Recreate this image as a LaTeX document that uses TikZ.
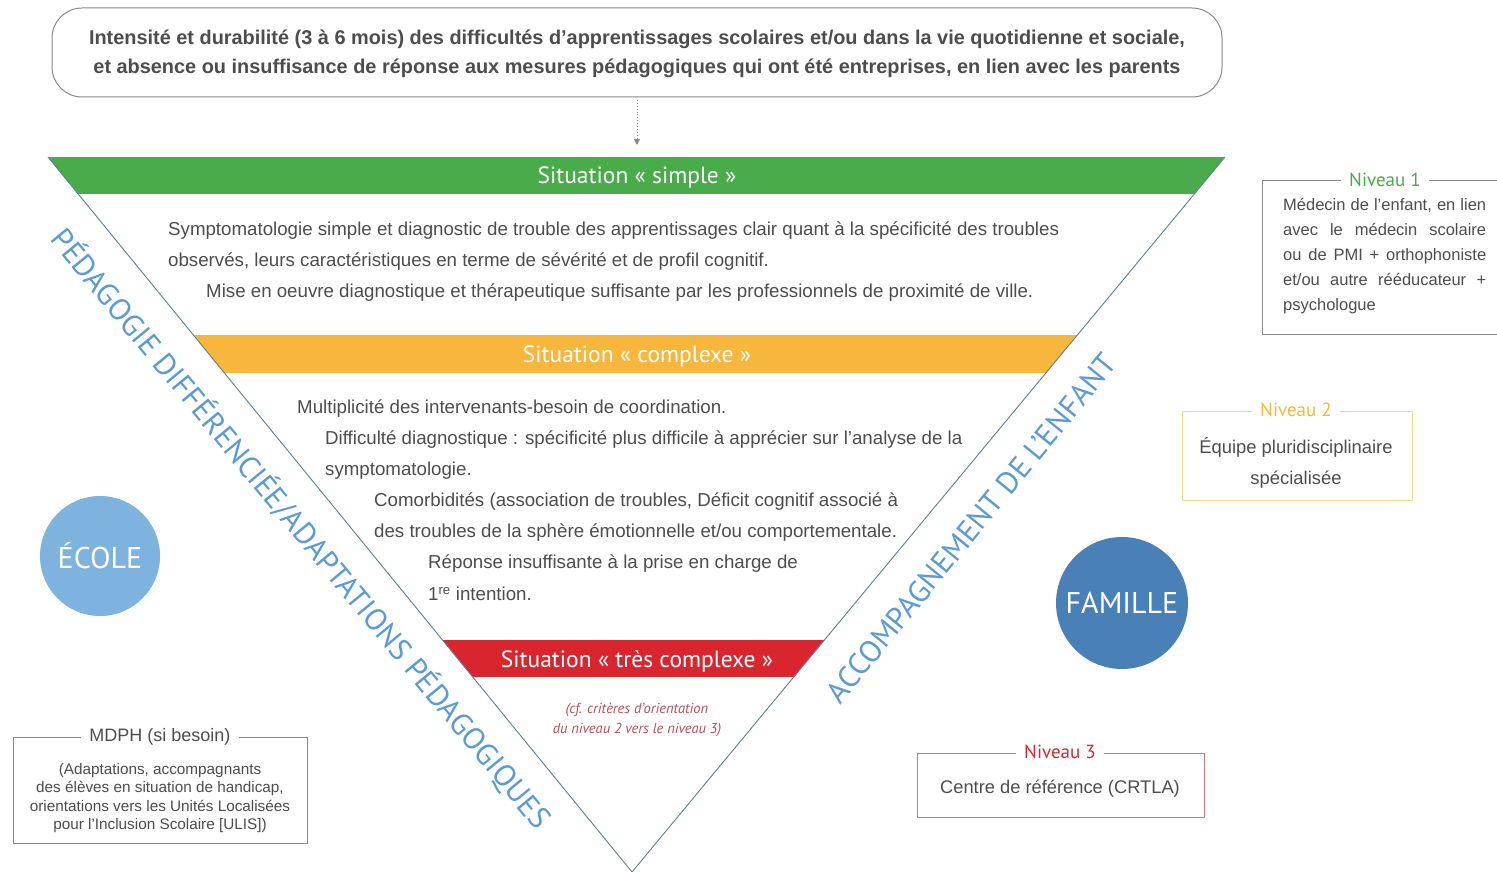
\documentclass[tikz,border=0pt]{standalone}
\usepackage{fontspec}
\setmainfont{Liberation Sans}
\newfontfamily\cond{PT Sans}
\usetikzlibrary{arrows.meta}
\definecolor{cgreen}{HTML}{4AAB4A}
\definecolor{cyellow}{HTML}{F6B73C}
\definecolor{cred}{HTML}{D9262E}
\definecolor{cecole}{HTML}{7FB3DF}
\definecolor{cfam}{HTML}{4A80B8}
\definecolor{cedge}{HTML}{5E7F96}
\definecolor{ctext}{HTML}{4D4D4D}
\definecolor{cbox}{HTML}{8A8A8A}
\definecolor{cdiag}{HTML}{5B9BD5}
\definecolor{cyelbox}{HTML}{EEDF86}
\definecolor{credbox}{HTML}{D9727C}
\definecolor{cnote}{HTML}{B5505A}
\tikzset{
  body/.style={font=\fontsize{18.7}{22}\selectfont, text=ctext, anchor=west, inner sep=0pt},
  bandtitle/.style={font=\cond\fontsize{23.5}{26}\selectfont, text=white, inner sep=0pt},
  boxtitle/.style={font=\cond\fontsize{19}{22}\selectfont, fill=white, inner xsep=8pt, inner ysep=2pt},
  diag/.style={font=\cond\fontsize{30.5}{32}\selectfont, text=cdiag, inner sep=0pt},
  circletext/.style={font=\cond\fontsize{30}{34}\selectfont, text=white, inner sep=0pt},
  frame/.style={line width=0.8pt}
}
\newcommand{\jline}[1]{\makebox[203pt][s]{#1}}
\begin{document}
\begin{tikzpicture}[x=1pt,y=-1pt]
\useasboundingbox (0,0) rectangle (1497,872);
\fill[white] (0,0) rectangle (1497,872);

% top box
\draw[cbox, line width=1pt, rounded corners=30pt] (52,8) rectangle (1222,97);
\node[font=\bfseries\fontsize{19.9}{29}\selectfont, text=ctext, align=center] (top) at (637,54)
 {Intensité et durabilité (3 à 6 mois) des difficultés d’apprentissages scolaires et/ou dans la vie quotidienne et sociale,\\
  et absence ou insuffisance de réponse aux mesures pédagogiques qui ont été entreprises, en lien avec les parents};
\coordinate (arrs) at (637,100);
\coordinate (arre) at (637,145);
\draw[cbox, dotted, line width=0.9pt, -{Triangle[width=6pt,length=6pt]}] (arrs) -- (arre);

% triangle
\coordinate (tl) at (48,157);
\coordinate (tr) at (1225,157);
\coordinate (bt) at (632,872);
\begin{scope}
\clip (tl) -- (tr) -- (bt) -- cycle;
\fill[cgreen] (0,157) rectangle (1497,194);
\fill[cyellow] (0,335) rectangle (1497,373);
\fill[cred] (0,640) rectangle (1497,677);
\end{scope}
\draw[cedge, line width=0.9pt] (tl) -- (bt) -- (tr);

\node[bandtitle] (s1) at (637,177) {Situation « simple »};
\node[bandtitle] (s2) at (637,356) {Situation « complexe »};
\node[bandtitle] (s3) at (637,661) {Situation « très complexe »};

% green section text
\node[body] (g1) at (168,231) {Symptomatologie simple et diagnostic de trouble des apprentissages clair quant à la spécificité des troubles};
\node[body] (g2) at (168,262) {observés, leurs caractéristiques en terme de sévérité et de profil cognitif.};
\node[body] (g3) at (206,293) {Mise en oeuvre diagnostique et thérapeutique suffisante par les professionnels de proximité de ville.};

% yellow section text
\node[body] (y1) at (297,409) {Multiplicité des intervenants-besoin de coordination.};
\node[body] (y2) at (325,440) {Difficulté diagnostique : spécificité plus difficile à apprécier sur l’analyse de la};
\node[body] (y3) at (325,471) {symptomatologie.};
\node[body] (y4) at (374,502) {Comorbidités (association de troubles, Déficit cognitif associé à};
\node[body] (y5) at (374,533) {des troubles de la sphère émotionnelle et/ou comportementale.};
\node[body] (y6) at (428,564) {Réponse insuffisante à la prise en charge de};
\node[body] (y7) at (428,594) {1\textsuperscript{re} intention.};

% red section note
\node[font=\cond\itshape\fontsize{14.5}{20}\selectfont, text=cnote, align=center, inner sep=0pt] (note) at (637,720)
 {(cf. critères d’orientation\\du niveau 2 vers le niveau 3)};

% diagonal texts
\node[diag, rotate=-50.5] (dl) at (301,529) {PÉDAGOGIE DIFFÉRENCIÉE/ADAPTATIONS PÉDAGOGIQUES};
\node[diag, rotate=50.8] (dr) at (971,528) {ACCOMPAGNEMENT DE L’ENFANT};

% circles
\node[circle, fill=cecole, minimum size=120pt, inner sep=0pt] (ecole) at (100,556) {};
\node[circletext] at (ecole) {ÉCOLE};
\node[circle, fill=cfam, minimum size=132pt, inner sep=0pt] (famille) at (1122,603) {};
\node[circletext] at (famille) {FAMILLE};

% Niveau 1
\draw[cbox, frame] (1262,180) rectangle (1510,334);
\node[boxtitle, text=cgreen] (n1) at (1385,180) {Niveau 1};
\node[font=\fontsize{16.5}{25}\selectfont, text=ctext, align=left, anchor=north west, inner sep=0pt] (n1t) at (1283,198)
 {\jline{Médecin de l’enfant, en lien}\\\jline{avec le médecin scolaire}\\\jline{ou de PMI + orthophoniste}\\\jline{et/ou autre rééducateur +}\\psychologue};

% Niveau 2
\draw[cyelbox, frame] (1182,411) rectangle (1412,500);
\node[boxtitle, text=cyellow] (n2) at (1296,410) {Niveau 2};
\node[font=\fontsize{18.4}{31}\selectfont, text=ctext, align=center, inner sep=0pt] (n2t) at (1296,463)
 {Équipe pluridisciplinaire\\spécialisée};

% Niveau 3
\draw[credbox, frame] (917,753) rectangle (1204,817);
\node[boxtitle, text=cred] (n3) at (1060,752) {Niveau 3};
\node[font=\fontsize{18.3}{20}\selectfont, text=ctext, inner sep=0pt] (n3t) at (1060,789) {Centre de référence (CRTLA)};

% MDPH
\draw[cbox, frame] (13,737) rectangle (307,843);
\node[font=\fontsize{18}{20}\selectfont, text=ctext, fill=white, inner xsep=8pt, inner ysep=2pt] (m) at (160,737) {MDPH (si besoin)};
\node[font=\fontsize{15.3}{18.5}\selectfont, text=ctext, align=center, inner sep=0pt] (mt) at (160,798)
 {(Adaptations, accompagnants\\des élèves en situation de handicap,\\orientations vers les Unités Localisées\\pour l’Inclusion Scolaire [ULIS])};
\end{tikzpicture}
\end{document}
